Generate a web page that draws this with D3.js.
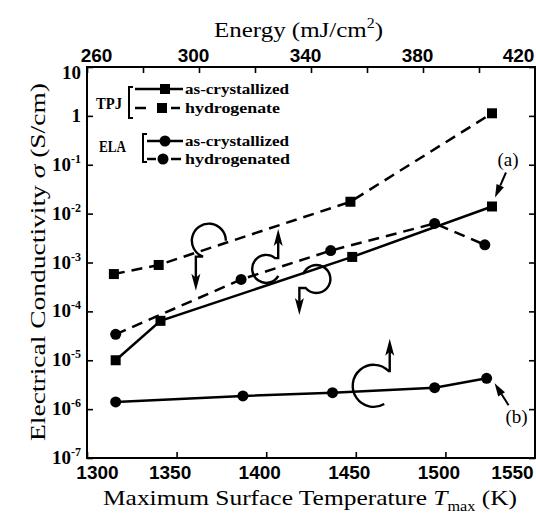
<!DOCTYPE html>
<html>
<head>
<meta charset="utf-8">
<script src="https://cdn.jsdelivr.net/npm/d3@7"></script>
<style>
  body { margin: 0; background: #fff; }
  svg { display: block; font-family: "Liberation Serif", "Times New Roman", serif; }
</style>
</head>
<body>
<div id="chart"></div>
<script>
// axis ticks
const tempTicks = [1300, 1350, 1400, 1450, 1500, 1550];
const energyTicks = [260, 280, 300, 320, 340, 360, 380, 400, 420];
const energyLabels = [260, 300, 340, 380, 420];
const sigmaExp = [1, 0, -1, -2, -3, -4, -5, -6, -7];

// TPJ, as-crystallized (solid, squares)
const tpjAsT = [1316, 1341, 1448, 1526];
const tpjAsSigma = [1.0e-5, 6.4e-5, 1.3e-3, 1.4e-2];
// TPJ, hydrogenated (dashed, squares)
const tpjHydT = [1315, 1340, 1447, 1526];
const tpjHydSigma = [5.8e-4, 8.9e-4, 1.75e-2, 1.13];
// ELA, as-crystallized (solid, circles)
const elaAsT = [1316, 1387, 1437, 1494, 1523];
const elaAsSigma = [1.4e-6, 1.86e-6, 2.17e-6, 2.75e-6, 4.27e-6];
// ELA, hydrogenated (dashed, circles)
const elaHydT = [1316, 1386, 1436, 1494, 1522];
const elaHydSigma = [3.4e-5, 4.5e-4, 1.75e-3, 6.3e-3, 2.3e-3];

// rotation marks: centre in data units
const turnT = [1368, 1400, 1428, 1460];
const turnSigma = [2.8e-3, 7.4e-4, 4.6e-4, 3.0e-6];

const W = 536, H = 514;
const frame = { l: 87, r: 535, t: 67, b: 458 };
const LW = 2.5;

const x = d3.scaleLinear().domain([1300, 1550]).range([frame.l, frame.r]);
const xE = d3.scaleLinear().domain([260, 420]).range([frame.l, frame.r]);
const y = d3.scaleLog().domain([1e-7, 10]).range([frame.b, frame.t]);

const svg = d3.select('#chart').append('svg')
  .attr('width', W).attr('height', H);

// ---- axes (ticks point inward) ----
const styleAxis = g => {
  g.select('.domain').remove();
  g.selectAll('.tick line').attr('stroke', '#000').attr('stroke-width', 1.6);
};

const gBottom = svg.append('g')
  .attr('transform', `translate(0,${frame.b})`)
  .call(d3.axisBottom(x).tickValues(tempTicks).tickSize(-6).tickFormat(d3.format('d')))
  .call(styleAxis);
gBottom.selectAll('.tick text')
  .attr('y', 21).attr('dy', 0)
  .attr('dx', (d, i, n) => i === 0 ? 10 : (i === n.length - 1 ? -23 : -7))
  .attr('fill', '#000')
  .style('font-size', '19px').style('font-weight', 'bold').style('font-family', null);

const gTop = svg.append('g')
  .attr('transform', `translate(0,${frame.t})`)
  .call(d3.axisTop(xE).tickValues(energyTicks).tickSize(-6)
    .tickFormat(d => energyLabels.includes(d) ? d : ''))
  .call(styleAxis);
gTop.selectAll('.tick text')
  .attr('y', -5).attr('dy', 0)
  .attr('dx', (d, i, n) => i === 0 ? 9 : (i === n.length - 1 ? -17 : -6))
  .attr('fill', '#000')
  .style('font-size', '19px').style('font-weight', 'bold').style('font-family', null);

const decades = sigmaExp.map(e => Math.pow(10, e));

svg.append('g')
  .attr('transform', `translate(${frame.l},0)`)
  .call(d3.axisLeft(y).tickValues(decades).tickSize(-6).tickFormat(''))
  .call(styleAxis);
svg.append('g')
  .attr('transform', `translate(${frame.r},0)`)
  .call(d3.axisRight(y).tickValues(decades).tickSize(-6).tickFormat(''))
  .call(styleAxis);

// y labels with superscripts
const yLab = svg.append('g').attr('font-weight', 'bold').attr('fill', '#000')
  .selectAll('text').data(sigmaExp).join('text')
  .attr('x', 81)
  .attr('y', e => Math.max(y(Math.pow(10, e)), 73) + 6)
  .attr('text-anchor', 'end')
  .style('font-size', '19px');
yLab.each(function (e) {
  const t = d3.select(this);
  if (e === 1) { t.text('10'); return; }
  if (e === 0) { t.text('1'); return; }
  t.append('tspan').text('10');
  t.append('tspan').attr('dy', -8).style('font-size', '12px').text('-' + Math.abs(e));
});

// frame
svg.append('rect')
  .attr('x', frame.l).attr('y', frame.t)
  .attr('width', frame.r - frame.l).attr('height', frame.b - frame.t)
  .attr('fill', 'none').attr('stroke', '#000').attr('stroke-width', 2);

// ---- titles ----
const xt = svg.append('text')
  .attr('x', 103).attr('y', 505)
  .attr('textLength', 414).attr('lengthAdjust', 'spacingAndGlyphs')
  .style('font-size', '22px');
xt.append('tspan').text('Maximum Surface Temperature ');
xt.append('tspan').style('font-style', 'italic').text('T');
xt.append('tspan').attr('dy', 6).style('font-size', '14px').text('max');
xt.append('tspan').attr('dy', -6).text(' (K)');

const yt = svg.append('text')
  .attr('transform', 'translate(45,441) rotate(-90)')
  .attr('textLength', 358).attr('lengthAdjust', 'spacingAndGlyphs')
  .style('font-size', '22px');
yt.append('tspan').text('Electrical Conductivity ');
yt.append('tspan').style('font-style', 'italic').text('σ');
yt.append('tspan').text(' (S/cm)');

const et = svg.append('text')
  .attr('x', 214).attr('y', 37)
  .attr('textLength', 169).attr('lengthAdjust', 'spacingAndGlyphs')
  .style('font-size', '22px');
et.append('tspan').text('Energy (mJ/cm');
et.append('tspan').attr('dy', -9).style('font-size', '14px').text('2');
et.append('tspan').attr('dy', 9).text(')');

// ---- series ----
const series = [
  { t: tpjAsT, s: tpjAsSigma, dash: null, marker: 'square' },
  { t: tpjHydT, s: tpjHydSigma, dash: '11,7', marker: 'square' },
  { t: elaAsT, s: elaAsSigma, dash: null, marker: 'circle' },
  { t: elaHydT, s: elaHydSigma, dash: '11,7', marker: 'circle' },
];

const line = d3.line().x(d => x(d[0])).y(d => y(d[1]));
const plot = svg.append('g');

series.forEach(sr => {
  const pts = d3.zip(sr.t, sr.s);
  plot.append('path')
    .attr('d', line(pts))
    .attr('fill', 'none').attr('stroke', '#000')
    .attr('stroke-width', LW)
    .attr('stroke-dasharray', sr.dash);
  if (sr.marker === 'square') {
    plot.selectAll(null).data(pts).join('rect')
      .attr('x', d => x(d[0]) - 5).attr('y', d => y(d[1]) - 5)
      .attr('width', 10).attr('height', 10).attr('fill', '#000');
  } else {
    plot.selectAll(null).data(pts).join('circle')
      .attr('cx', d => x(d[0])).attr('cy', d => y(d[1]))
      .attr('r', 5.5).attr('fill', '#000');
  }
});

// ---- rotation marks with arrows ----
const deg = a => a * Math.PI / 180;
const arrowHead = (g, ax, tipY, dir) => {
  // dir: 1 = pointing down, -1 = pointing up
  g.append('path')
    .attr('d', `M${ax},${tipY} L${ax - 4.5},${tipY - dir * 17} L${ax},${tipY - dir * 13} L${ax + 4.5},${tipY - dir * 17} Z`)
    .attr('fill', '#000');
};

const turns = [
  // arc from a0 to a1 (ccw flag), then shaft to arrow tip
  { r: 17, a0: 0, a1: 110, ccw: true, sx: -13, tipY: 50, dir: 1 },
  { r: 14, a0: -50, a1: 30, ccw: true, sx: 12, tipY: -40, dir: -1 },
  { r: 14, a0: 200, a1: 140, ccw: false, sx: -17, tipY: 36, dir: 1 },
  { r: 21, a0: -45, a1: 60, ccw: true, sx: 16, tipY: -47, dir: -1 },
];

const marks = svg.append('g');
turns.forEach((m, i) => {
  const cx = x(turnT[i]), cy = y(turnSigma[i]);
  const p = d3.path();
  const a0 = deg(m.a0), a1 = deg(m.a1);
  if (m.dir === 1) {
    p.arc(cx, cy, m.r, a0, a1, m.ccw);
    p.lineTo(cx + m.sx, cy + m.r * Math.sin(a1));
    p.lineTo(cx + m.sx, cy + m.tipY - 10);
  } else {
    p.moveTo(cx + m.sx, cy + m.tipY + 10);
    p.lineTo(cx + m.sx, cy + m.r * Math.sin(a0));
    p.arc(cx, cy, m.r, a0, a1, m.ccw);
  }
  marks.append('path').attr('d', p.toString())
    .attr('fill', 'none').attr('stroke', '#000').attr('stroke-width', 2.4);
  arrowHead(marks, cx + m.sx, cy + m.tipY, m.dir);
});

// ---- (a) / (b) labels with arrows ----
const pa = [x(tpjAsT[3]), y(tpjAsSigma[3])];
const pb = [x(elaAsT[4]), y(elaAsSigma[4])];
const pointer = (tip, from) => {
  const ang = Math.atan2(tip[1] - from[1], tip[0] - from[0]);
  const back = [tip[0] - 13 * Math.cos(ang), tip[1] - 13 * Math.sin(ang)];
  const nx = -Math.sin(ang) * 4, ny = Math.cos(ang) * 4;
  marks.append('line')
    .attr('x1', from[0]).attr('y1', from[1]).attr('x2', back[0]).attr('y2', back[1])
    .attr('stroke', '#000').attr('stroke-width', 2);
  marks.append('path')
    .attr('d', `M${tip[0]},${tip[1]} L${back[0] + nx},${back[1] + ny} L${back[0] - nx},${back[1] - ny} Z`)
    .attr('fill', '#000');
};
pointer([pa[0] + 3, pa[1] - 9], [pa[0] + 14, pa[1] - 34]);
pointer([pb[0] + 8, pb[1] + 5], [pb[0] + 22, pb[1] + 27]);

svg.append('text').attr('x', pa[0] + 16).attr('y', pa[1] - 40)
  .attr('text-anchor', 'middle').style('font-size', '19px').text('(a)');
svg.append('text').attr('x', pb[0] + 30).attr('y', pb[1] + 45)
  .attr('text-anchor', 'middle').style('font-size', '19px').text('(b)');

// ---- legend ----
const lg = svg.append('g');
const legText = (tx, ty, str, len, size) => lg.append('text')
  .attr('x', tx).attr('y', ty)
  .attr('textLength', len).attr('lengthAdjust', 'spacingAndGlyphs')
  .style('font-size', size + 'px').style('font-weight', 'bold').text(str);
const seg = (x1, x2, yy) => lg.append('line')
  .attr('x1', x1).attr('x2', x2).attr('y1', yy).attr('y2', yy)
  .attr('stroke', '#000').attr('stroke-width', LW);
const bracket = (bx, y1, y2) => lg.append('path')
  .attr('d', `M${bx + 4},${y1} H${bx} V${y2} H${bx + 4}`)
  .attr('fill', 'none').attr('stroke', '#000').attr('stroke-width', 2);

legText(96, 109, 'TPJ', 26, 17);
bracket(129, 87, 118);
seg(135, 183, 89);
lg.append('rect').attr('x', 160).attr('y', 84).attr('width', 10).attr('height', 10);
seg(135, 146, 108); seg(171, 180, 108);
lg.append('rect').attr('x', 157).attr('y', 103).attr('width', 10).attr('height', 10);
legText(185, 94, 'as-crystallized', 104, 15);
legText(185, 113, 'hydrogenate', 95, 15);

legText(99, 152, 'ELA', 27, 17);
bracket(143, 134, 162);
seg(147, 183, 141);
lg.append('circle').attr('cx', 165).attr('cy', 141).attr('r', 5.5);
seg(147, 156, 159); seg(171, 181, 159);
lg.append('circle').attr('cx', 163).attr('cy', 159).attr('r', 5.5);
legText(185, 146, 'as-crystallized', 104, 15);
legText(185, 164, 'hydrogenated', 105, 15);
</script>
</body>
</html>
